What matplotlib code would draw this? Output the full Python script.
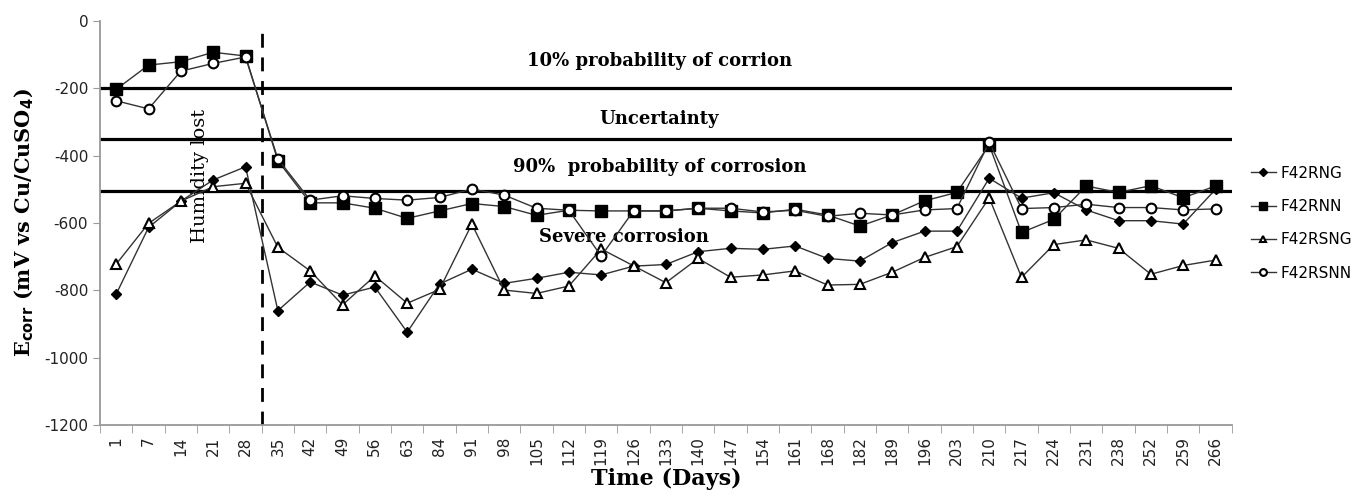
import matplotlib.pyplot as plt
import numpy as np

plt.rcParams['axes.unicode_minus'] = False

# data
days = ['1', '7', '14', '21', '28', '35', '42', '49', '56', '63', '84', '91', '98', '105',
        '112', '119', '126', '133', '140', '147', '154', '161', '168', '182', '189', '196',
        '203', '210', '217', '224', '231', '238', '252', '259', '266']

f42rng = [-811, -613, -535, -472, -433, -860, -775, -814, -790, -924, -781, -737, -779, -764,
          -746, -754, -728, -723, -685, -675, -678, -668, -705, -713, -658, -624,
          -624, -467, -526, -510, -561, -593, -593, -603, -500]
f42rnn = [-203, -131, -121, -93, -104, -415, -540, -540, -556, -586, -564, -542, -551, -577,
          -562, -564, -564, -564, -556, -564, -570, -559, -576, -609, -576, -534,
          -509, -368, -628, -589, -490, -509, -489, -525, -490]
f42rsng = [-722, -601, -535, -492, -482, -672, -742, -843, -757, -838, -797, -603, -799, -809,
           -787, -677, -727, -777, -705, -761, -754, -742, -784, -782, -746, -702,
           -670, -525, -761, -664, -650, -675, -752, -726, -710]
f42rsnn = [-237, -261, -149, -126, -107, -410, -532, -519, -527, -532, -524, -499, -517, -556,
           -562, -698, -564, -564, -556, -556, -567, -562, -580, -571, -576, -561,
           -557, -360, -557, -554, -544, -554, -554, -561, -558]

thresholds = [-200, -350, -505]
zone_labels = ['10% probability of corrion', 'Uncertainty',
               '90%  probability of corrosion', 'Severe corrosion']

x = np.arange(len(days))
serif = 'DejaVu Serif'

fig = plt.figure(figsize=(13.61, 4.99), dpi=100)
ax = fig.add_axes([0.0735, 0.148, 0.8315, 0.81])

for yv in thresholds:
    ax.axhline(yv, color='black', lw=2.3, zorder=2)

ax.plot([4.5, 4.5], [-1200, -20], color='black', lw=2, dashes=(5, 3.5), zorder=2)

ax.plot(x, f42rng, color='#333333', lw=1, marker='D', ms=5.5, mfc='black', mec='black',
        label='F42RNG', zorder=4)
ax.plot(x, f42rnn, color='#333333', lw=1, marker='s', ms=8, mfc='black', mec='black',
        label='F42RNN', zorder=4)
ax.plot(x, f42rsng, color='#333333', lw=1, marker='^', ms=7, mfc='white', mec='black',
        mew=1.5, label='F42RSNG', zorder=4)
ax.plot(x, f42rsnn, color='#333333', lw=1, marker='o', ms=7, mfc='white', mec='black',
        mew=1.5, label='F42RSNN', zorder=4)

ax.text(16.8, -119, zone_labels[0], ha='center', va='center', fontsize=13,
        fontweight='bold', family=serif)
ax.text(16.8, -291, zone_labels[1], ha='center', va='center', fontsize=13,
        fontweight='bold', family=serif)
ax.text(16.8, -434, zone_labels[2], ha='center', va='center', fontsize=13,
        fontweight='bold', family=serif)
ax.text(15.7, -640, zone_labels[3], ha='center', va='center', fontsize=13,
        fontweight='bold', family=serif)
ax.text(2.6, -460, 'Humidity lost', rotation=90, ha='center', va='center', fontsize=14,
        family=serif)

ax.set_xlim(-0.5, len(days) - 0.5)
ax.set_ylim(-1200, 0)
ax.set_yticks(np.arange(-1200, 1, 200))
ax.set_xticks(x)
ax.set_xticklabels(days, rotation=90)
ax.set_xticks(np.arange(-0.5, len(days), 1), minor=True)
ax.tick_params(axis='x', which='major', length=0, pad=8, labelsize=11, labelcolor='#222222')
ax.tick_params(axis='x', which='minor', length=6, color='#999999', direction='out')
ax.tick_params(axis='y', length=5, color='#999999', labelsize=11, labelcolor='#222222')

for s in ['top', 'right']:
    ax.spines[s].set_visible(False)
for s in ['left', 'bottom']:
    ax.spines[s].set_color('#999999')
    ax.spines[s].set_linewidth(1.3)

ax.set_xlabel('Time (Days)', fontsize=16, fontweight='bold', family=serif, labelpad=2)
ax.set_ylabel(r'E$_{\mathbf{corr}}$ (mV vs Cu/CuSO$_{\mathbf{4}}$)', fontsize=15,
              fontweight='bold', family=serif, labelpad=6)

leg = ax.legend(loc='center left', bbox_to_anchor=(1.005, 0.5), frameon=False,
                fontsize=11, handlelength=1.6, labelspacing=1.2, markerscale=0.7,
                handletextpad=0.3)

fig.savefig('out.png', dpi=100)
